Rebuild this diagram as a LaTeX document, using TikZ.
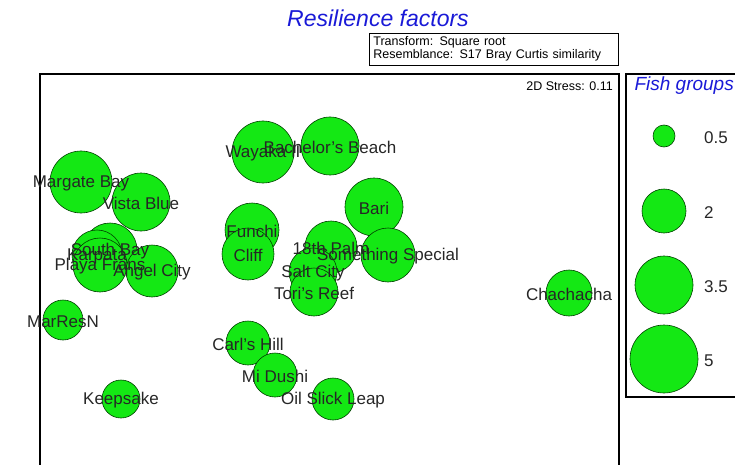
\documentclass[tikz,border=0pt]{standalone}
\usepackage{fontspec}
\setmainfont{Liberation Sans}
\definecolor{fishgreen}{RGB}{20,232,20}
\definecolor{titleblue}{RGB}{25,25,215}
\tikzset{
  bubble/.style={circle, draw=black!75!green, fill=fishgreen, line width=0.6pt, inner sep=0pt, minimum size=#1},
  site/.style={text=black!85, font=\fontsize{17}{20}\selectfont, inner sep=0pt, yshift=-1.5pt},
  note/.style={font=\fontsize{12.5}{13}\selectfont, inner sep=0pt},
  plotframe/.style={line width=1.2pt}
}
% name/x/y/diameter/label
\def\sitelist{margate/81/182/62/Margate Bay, vista/141/202/58/Vista Blue,
  southbay/110/250/54/South Bay, karpata/97/255/50/Karpata,
  playafrans/100/265/54/Playa Frans, angel/152/271/52/Angel City,
  marresn/63/320/40/MarResN, keepsake/121/399/38/Keepsake,
  wayaka/263/152/62/Wayaka II, bachelor/330/146/58/Bachelor's Beach,
  funchi/252/230/54/Funchi, cliff/248/254/52/Cliff, bari/374/207/58/Bari,
  palm/331/247/52/18th Palm, special/388/255/54/Something Special,
  salt/313/272/48/Salt City, tori/314/292/48/Tori's Reef,
  carl/248/343/44/Carl's Hill, dushi/275/375/44/Mi Dushi,
  oilslick/333/399/42/Oil Slick Leap, chacha/569/293/46/Chachacha}
\begin{document}
\begin{tikzpicture}[x=1pt,y=-1pt]
  \clip (0,0) rectangle (735,465);

  % Title and notes
  \node[font=\fontsize{23}{25}\selectfont\itshape, text=titleblue] (title) at (378,18) {Resilience factors};
  \node[note, draw, line width=0.8pt, anchor=north west, align=left, text width=241pt,
        inner xsep=4pt, inner ysep=3.5pt] (notes) at (369,33)
        {Transform: Square root\\Resemblance: S17 Bray Curtis similarity};

  % Plot frame
  \draw[plotframe] (40,470) -- (40,74) -- (619,74) -- (619,470);
  \node[note, anchor=east] (stress) at (613,86) {2D Stress: 0.11};

  % Sites
  \foreach \id/\px/\py/\dia/\txt in \sitelist {
    \node[bubble=\dia pt] (\id) at (\px,\py) {};
  }
  \foreach \id/\px/\py/\dia/\txt in \sitelist {
    \node[site] (\id-t) at (\id) {\txt};
  }

  % Legend
  \draw[plotframe] (626,74) rectangle (745,397);
  \node[font=\fontsize{19}{21}\selectfont\itshape, text=titleblue, anchor=west] (legtitle) at (631,86) {Fish groups};
  \foreach \id/\py/\dia/\val in {a/136/22/0.5, b/211/44/2, c/285/58/3.5, d/359/68/5} {
    \node[bubble=\dia pt] (leg\id) at (664,\py) {};
    \node[site, anchor=west] (legval\id) at (704,\py) {\val};
  }
\end{tikzpicture}
\end{document}
